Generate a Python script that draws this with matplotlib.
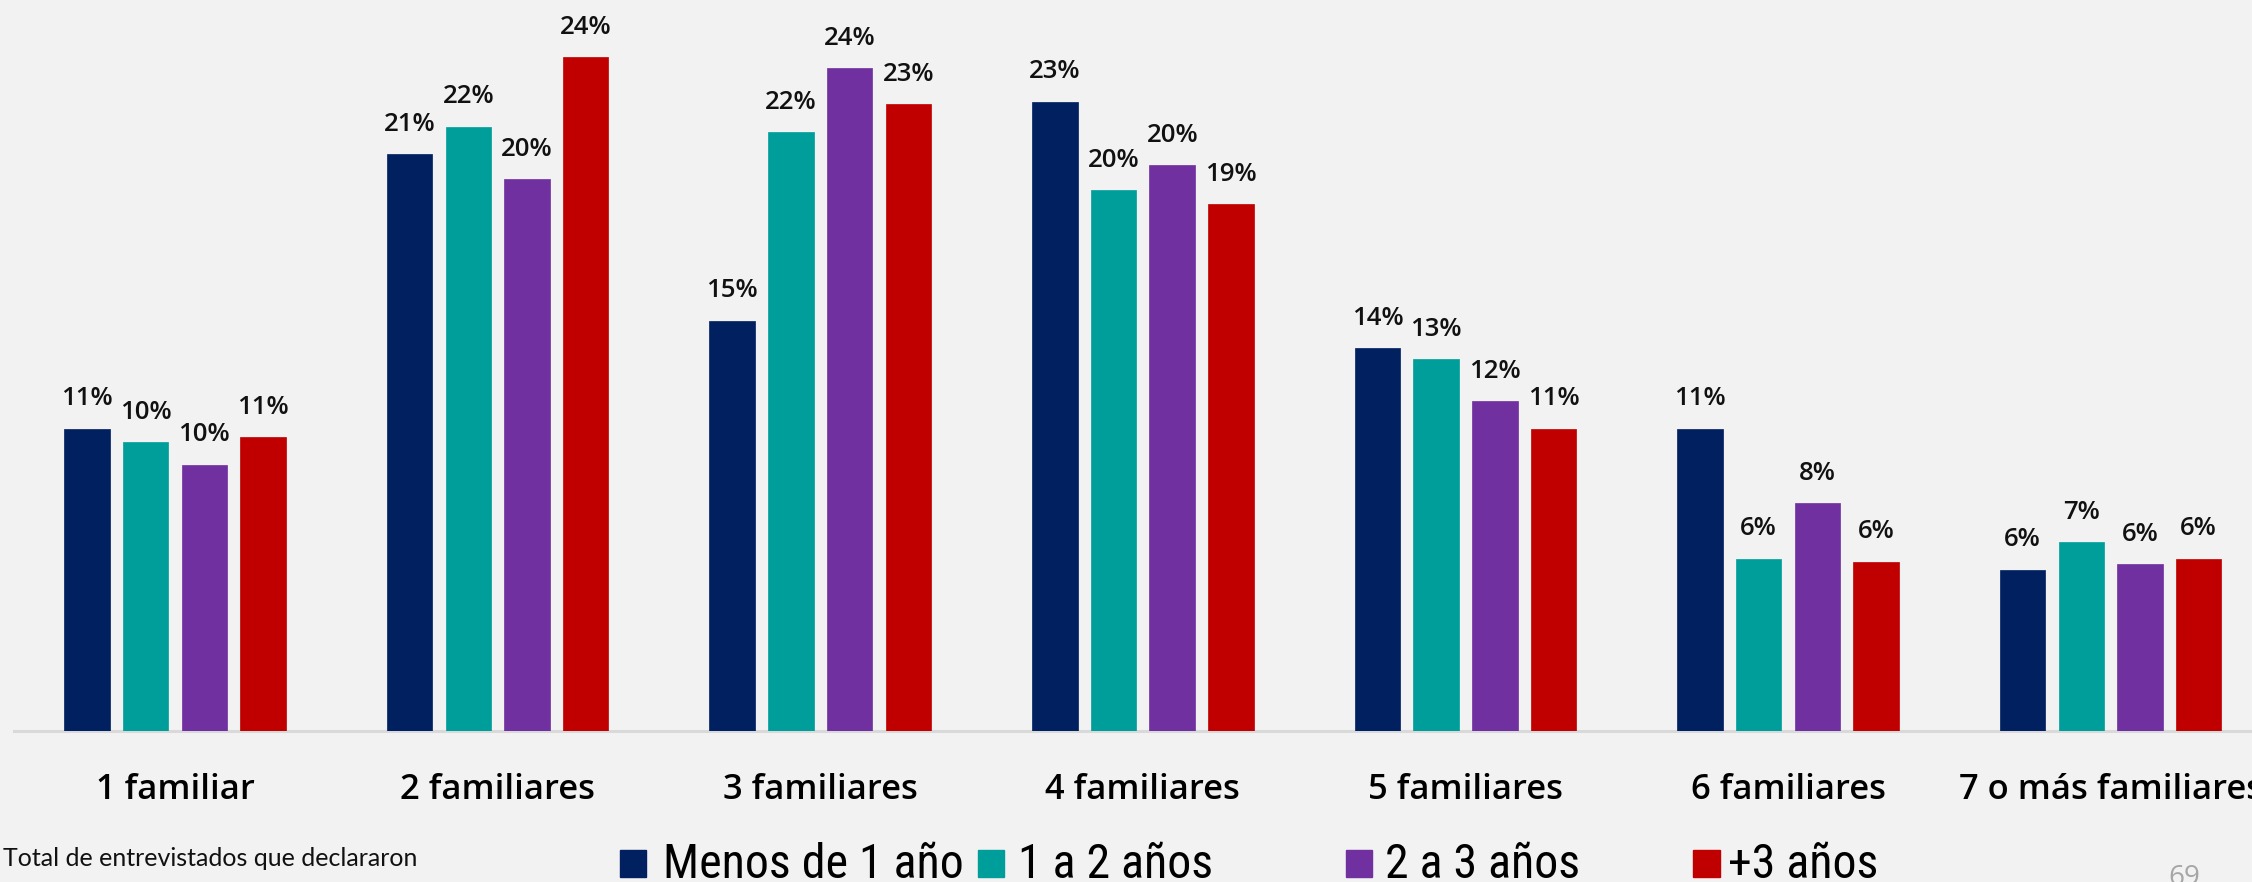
import matplotlib
matplotlib.use("Agg")
import matplotlib.pyplot as plt
from matplotlib.patches import Rectangle
from matplotlib import font_manager
import numpy as np

categories = ["1 familiar", "2 familiares", "3 familiares", "4 familiares",
              "5 familiares", "6 familiares", "7 o más familiares"]
series_names = ["Menos de 1 año", "1 a 2 años", "2 a 3 años", "+3 años"]
menos_1 = [10.9, 20.8, 14.8, 22.7, 13.8, 10.9, 5.8]
de_1_a_2 = [10.4, 21.8, 21.6, 19.5, 13.4, 6.2, 6.8]
de_2_a_3 = [9.6, 19.9, 23.9, 20.4, 11.9, 8.2, 6.0]
mas_3 = [10.6, 24.3, 22.6, 19.0, 10.9, 6.1, 6.2]
series_values = [menos_1, de_1_a_2, de_2_a_3, mas_3]
colors = ["#002060", "#009E9A", "#7030A0", "#C00000"]
footnote = "Total de entrevistados que declararon"
page_number = "69"

names = {f.name for f in font_manager.fontManager.ttflist}
narrow = None
for cand in ["Roboto Condensed", "Liberation Sans Narrow", "Open Sans Condensed", "Lato"]:
    if cand in names:
        narrow = cand
        break

W, H = 2252, 882
bg = "#F2F2F2"
fig = plt.figure(figsize=(W / 100, H / 100), dpi=100, facecolor=bg)
base_px = 730.5
ax = fig.add_axes([14 / W, (H - base_px) / H, 1 - 14 / W, base_px / H])
ax.set_facecolor(bg)

x = np.arange(len(categories))
step = 58.7 / 322.6
width = 45.5 / 322.6
for i, (vals, col) in enumerate(zip(series_values, colors)):
    bars = ax.bar(x + (i - 1.5) * step, vals, width=width, color=col,
                  edgecolor=col, linewidth=0.5, zorder=3)
    ax.bar_label(bars, labels=[f"{v:.0f}%" for v in vals], padding=12.5,
                 fontsize=18.5, family="Open Sans", fontweight="semibold",
                 color="#111111")

ax.set_xlim(-0.499, 6.438)
ax.set_ylim(0, base_px / 27.7)
for s in ["top", "right", "left"]:
    ax.spines[s].set_visible(False)
ax.spines["bottom"].set_color("#D9D9D9")
ax.spines["bottom"].set_linewidth(2.2)
ax.spines["bottom"].set_zorder(2)
ax.set_yticks([])
ax.set_xticks(x)
ax.set_xticklabels(categories, fontsize=24.8, family="Open Sans",
                   fontweight="semibold", color="#000000")
ax.tick_params(axis="x", length=0, pad=49)
for lab in ax.get_xticklabels():
    lab.set_va("baseline")

def fy(py):
    return (H - py) / H

fig.text(3 / W, fy(866), footnote, fontsize=18, family="Lato",
         va="baseline", ha="left", color="#111111")

legend_sq = [(620, 646), (978, 1004), (1346, 1372), (1693, 1720)]
legend_tx = [663, 1018, 1385, 1728]
for (x0, x1), tx, name, col in zip(legend_sq, legend_tx, series_names, colors):
    fig.patches.append(Rectangle((x0 / W, fy(877)), (x1 - x0) / W, 27 / H,
                                 transform=fig.transFigure, color=col))
    fig.text(tx / W, fy(878), name, fontsize=34.5,
             family=[narrow, "DejaVu Sans"],
             va="baseline", ha="left", color="#000000")

fig.text(2168 / W, fy(864), page_number, fontsize=20, family="Open Sans",
         va="top", ha="left", color="#A6A6A6")

fig.savefig("out.png", dpi=100, facecolor=bg)
